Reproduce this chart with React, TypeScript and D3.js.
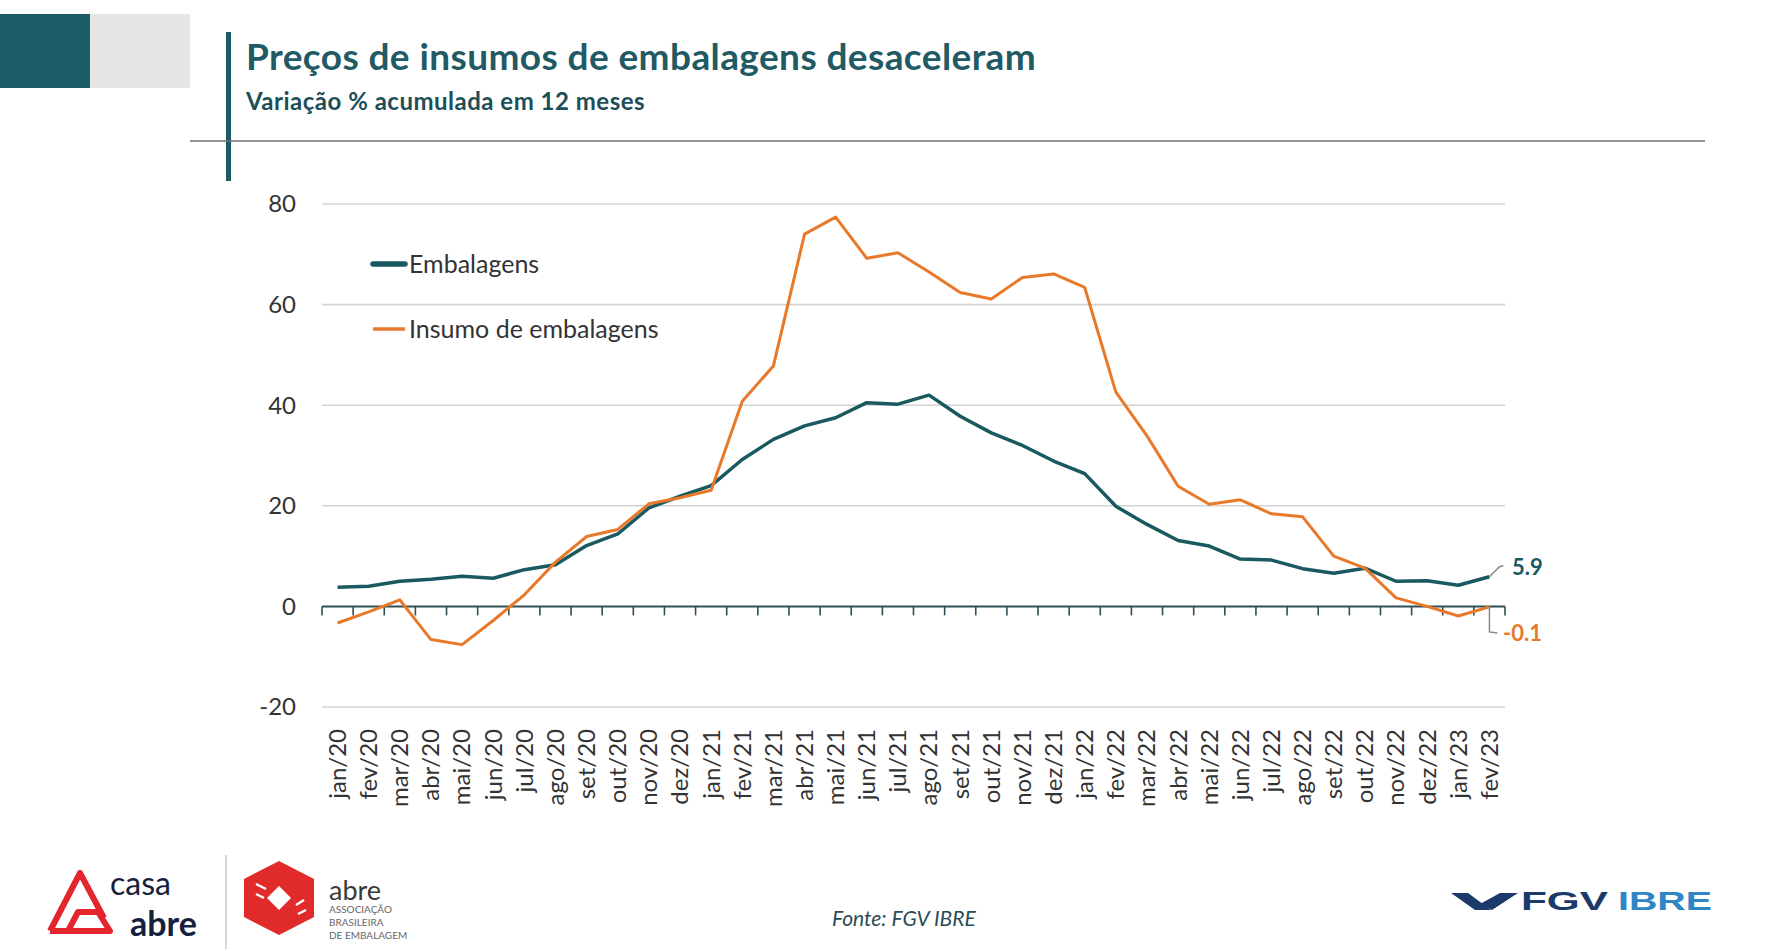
import React, { useEffect } from 'react';
import * as d3 from 'd3';

const months = [
  'jan/20', 'fev/20', 'mar/20', 'abr/20', 'mai/20', 'jun/20', 'jul/20', 'ago/20', 'set/20', 'out/20', 'nov/20', 'dez/20',
  'jan/21', 'fev/21', 'mar/21', 'abr/21', 'mai/21', 'jun/21', 'jul/21', 'ago/21', 'set/21', 'out/21', 'nov/21', 'dez/21',
  'jan/22', 'fev/22', 'mar/22', 'abr/22', 'mai/22', 'jun/22', 'jul/22', 'ago/22', 'set/22', 'out/22', 'nov/22', 'dez/22',
  'jan/23', 'fev/23',
];

// Embalagens, variação % acumulada em 12 meses
const embalagens = [
  3.8, 4.0, 5.0, 5.4, 6.0, 5.6, 7.3, 8.3, 12.1, 14.4, 19.6, 21.9,
  24.0, 29.2, 33.2, 35.9, 37.5, 40.5, 40.2, 42.0, 37.8, 34.5, 32.0, 28.9,
  26.4, 19.9, 16.3, 13.1, 12.0, 9.4, 9.2, 7.5, 6.6, 7.6, 5.0, 5.1,
  4.2, 5.9,
];

// Insumo de embalagens
const insumo = [
  -3.3, -1.1, 1.3, -6.6, -7.6, -2.8, 2.3, 8.8, 13.9, 15.3, 20.4, 21.6,
  23.1, 40.8, 47.8, 74.0, 77.4, 69.2, 70.3, 66.5, 62.4, 61.1, 65.4, 66.1,
  63.4, 42.6, 33.9, 23.9, 20.3, 21.2, 18.4, 17.8, 10.0, 7.6, 1.7, 0.0,
  -1.9, -0.1,
];

const yTicks = [-20, 0, 20, 40, 60, 80];

const series = [
  { name: 'Embalagens', values: embalagens, color: '#1a5960', width: 3.5 },
  { name: 'Insumo de embalagens', values: insumo, color: '#e8792b', width: 3 },
];

const FONT = 'Lato, "Open Sans", sans-serif';

const App: React.FC = () => {
  useEffect(() => {
    document.body.style.margin = '0';
  }, []);

  const x = d3.scaleBand<string>().domain(months).range([322, 1505]).padding(0);
  const y = d3.scaleLinear().domain([-20, 80]).range([707, 204]);
  const cx = (m: string) => (x(m) || 0) + x.bandwidth() / 2;

  const line = d3.line<number>()
    .x((_, i) => cx(months[i]))
    .y(d => y(d));

  const tickXs = months.map(m => x(m) || 0).concat([x.range()[1]]);
  const lastM = months[months.length - 1];
  const lastE = embalagens[embalagens.length - 1];
  const lastI = insumo[insumo.length - 1];

  return (
    <svg width={1772} height={951} style={{ display: 'block', background: '#fff' }} fontFamily={FONT}>
      {/* header blocks */}
      <rect x={0} y={14} width={90} height={74} fill="#1b5d67" />
      <rect x={90} y={14} width={100} height={74} fill="#e5e7e7" />
      <rect x={226} y={32} width={5} height={149} fill="#1d5b64" />
      <line x1={190} x2={1705} y1={141} y2={141} stroke="#6f6f6f" strokeWidth={1.6} />
      <text x={246} y={70} fontSize={37} fontWeight={700} letterSpacing={0.4} fill="#1f5a65">
        Preços de insumos de embalagens desaceleram
      </text>
      <text x={246} y={110} fontSize={24} fontWeight={700} letterSpacing={0.5} fill="#1e4e58">
        Variação % acumulada em 12 meses
      </text>

      {/* grid + y axis labels */}
      {yTicks.map(t => (
        <g key={t}>
          {t !== 0 && (
            <line x1={322} x2={1505} y1={y(t)} y2={y(t)} stroke="#d3d3d3" strokeWidth={1.6} />
          )}
          <text x={296} y={y(t)} dy="0.35em" textAnchor="end" fontSize={24} fill="#333">
            {t}
          </text>
        </g>
      ))}

      {/* zero axis with ticks */}
      <line x1={322} x2={1505} y1={y(0)} y2={y(0)} stroke="#2e4f56" strokeWidth={2} />
      {tickXs.map((tx, i) => (
        <line key={i} x1={tx} x2={tx} y1={y(0)} y2={y(0) + 9} stroke="#2e4f56" strokeWidth={1.6} />
      ))}

      {/* x labels */}
      {months.map(m => (
        <text
          key={m}
          transform={`translate(${cx(m)},729) rotate(-90)`}
          textAnchor="end"
          dy="0.35em"
          fontSize={24}
          fill="#333"
        >
          {m}
        </text>
      ))}

      {/* series */}
      {series.map(s => (
        <path key={s.name} d={line(s.values) || ''} fill="none" stroke={s.color}
          strokeWidth={s.width} strokeLinejoin="round" />
      ))}

      {/* end labels */}
      <polyline
        points={`${cx(lastM)},${y(lastE)} ${cx(lastM) + 10},${y(lastE) - 10} ${cx(lastM) + 14},${y(lastE) - 11}`}
        fill="none" stroke="#8a8a8a" strokeWidth={1.5}
      />
      <text x={1512} y={y(lastE) - 9} dy="0.35em" fontSize={22} fontWeight={700} fill="#1a5960">5.9</text>
      <polyline
        points={`${cx(lastM)},${y(lastI)} ${cx(lastM)},${y(lastI) + 25} ${cx(lastM) + 8},${y(lastI) + 26}`}
        fill="none" stroke="#8a8a8a" strokeWidth={1.5}
      />
      <text x={1503} y={y(lastI) + 26} dy="0.35em" fontSize={22} fontWeight={700} fill="#e8792b">-0.1</text>

      {/* legend */}
      {series.map((s, i) => (
        <g key={s.name} transform={`translate(0,${264 + i * 65})`}>
          <line x1={373} x2={405} y1={0} y2={0} stroke={s.color}
            strokeWidth={i === 0 ? 5.5 : 3.5} strokeLinecap={i === 0 ? 'round' : 'butt'} />
          <text x={409} y={0} dy="0.35em" fontSize={25} fill="#333">{s.name}</text>
        </g>
      ))}

      {/* source */}
      <text x={832} y={926} fontSize={21} fontStyle="italic" fill="#2b4c56">Fonte: FGV IBRE</text>

      {/* casa abre logo */}
      <g fill="none" stroke="#e3262b" strokeWidth={6} strokeLinejoin="round">
        <path d="M50,931 L80,873 L104,918 M68,931 L110,931 L98,912 L78,912 Z M50,931 L68,931" />
      </g>
      <text x={110} y={895} fontSize={32} fill="#14213d">casa</text>
      <text x={130} y={936} fontSize={34} fontWeight={700} fill="#14213d">abre</text>
      <line x1={226} x2={226} y1={855} y2={949} stroke="#bbb" strokeWidth={1.2} />

      {/* abre cube */}
      <polygon points="279,861 314,879 314,917 279,935 244,917 244,879" fill="#e12a2a" />
      <polygon points="279,886 291,898 279,910 267,898" fill="#fff" />
      <path d="M256,884 L266,889 M256,894 L264,898 M296,905 L304,900 M298,914 L306,910" stroke="#fff" strokeWidth={2.5} />
      <text x={329} y={900} fontSize={27} fill="#3a3a3a">abre</text>
      <text x={329} y={913} fontSize={10} fill="#666">ASSOCIAÇÃO</text>
      <text x={329} y={926} fontSize={10} fill="#666">BRASILEIRA</text>
      <text x={329} y={939} fontSize={10} fill="#666">DE EMBALAGEM</text>

      {/* FGV IBRE logo */}
      <polygon points="1451,893 1468,893 1491,910 1475,910" fill="#1b3a6b" />
      <polygon points="1480,904 1500,893 1518,893 1492,910" fill="#1b3a6b" />
      <text x={1521} y={910} fontSize={26} fontWeight={700} fontFamily="'Liberation Sans', Arial, sans-serif"
        fill="#1b3a6b" textLength={87} lengthAdjust="spacingAndGlyphs">FGV</text>
      <text x={1618} y={910} fontSize={26} fontWeight={700} fontFamily="'Liberation Sans', Arial, sans-serif"
        fill="#2f86c6" textLength={94} lengthAdjust="spacingAndGlyphs">IBRE</text>
    </svg>
  );
};

export default App;
